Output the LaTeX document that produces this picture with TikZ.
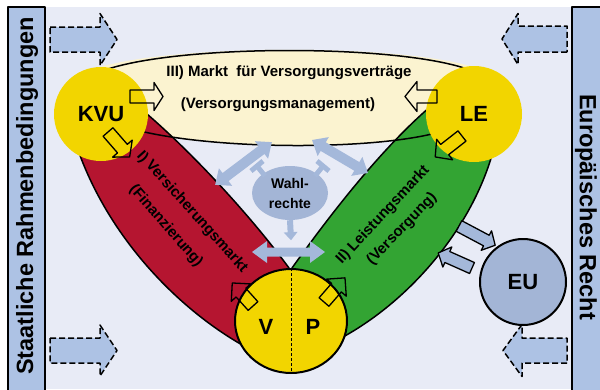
\documentclass[tikz,border=0pt]{standalone}
\usepackage{fontspec}
\setmainfont{Liberation Sans}
\usetikzlibrary{shapes.geometric}
\definecolor{bgc}{RGB}{232,235,246}
\definecolor{barb}{RGB}{173,194,228}
\definecolor{arrb}{RGB}{164,184,218}
\definecolor{eub}{RGB}{163,181,214}
\definecolor{yel}{RGB}{242,213,0}
\definecolor{cream}{RGB}{251,243,208}
\definecolor{redc}{RGB}{181,21,48}
\definecolor{greenc}{RGB}{51,164,51}
\tikzset{
  pics/barrow/.style args={#1/#2/#3/#4}{code={
    \path[pic actions] (0,-#2) -- ({#1-#4},-#2) -- ({#1-#4},-#3) -- (#1,0) -- ({#1-#4},#3) -- ({#1-#4},#2) -- (0,#2) -- cycle;}},
  pics/dbarrow/.style args={#1/#2/#3/#4}{code={
    \path[pic actions] ({-#1/2},0) -- ({-#1/2+#4},#3) -- ({-#1/2+#4},#2) -- ({#1/2-#4},#2) -- ({#1/2-#4},#3) -- ({#1/2},0) -- ({#1/2-#4},-#3) -- ({#1/2-#4},-#2) -- ({-#1/2+#4},-#2) -- ({-#1/2+#4},-#3) -- cycle;}},
  sidetxt/.style={font=\fontsize{23.5}{26}\selectfont\bfseries, inner sep=0},
  bigtxt/.style={font=\fontsize{22}{26}\selectfont\bfseries, inner sep=0},
  midtxt/.style={font=\fontsize{15}{18}\selectfont\bfseries, inner sep=0},
  dasharr/.style={draw, fill=barb, line width=1.5pt, dash pattern=on 6pt off 3pt},
  outarr/.style={draw, line width=1.3pt},
  euarr/.style={draw, fill=arrb, line width=1.3pt},
  dbl/.style={fill=arrb},
  stub/.style={draw=arrb, line width=5pt},
  band/.style={draw, line width=1.5pt},
}
\begin{document}
\begin{tikzpicture}[x=1pt,y=-1pt,line join=round]
\useasboundingbox (0,0) rectangle (600,389);
\fill[white] (0,0) rectangle (600,389);
\fill[bgc] (45,7) rectangle (572,389);
% side bars
\draw[line width=2.5pt, fill=barb] (8,7) rectangle (45,393);
\draw[line width=2.5pt, fill=barb] (572,7) rectangle (606,393);
\node[sidetxt, rotate=90] (lt) at (27,196) {Staatliche Rahmenbedingungen};
\node[sidetxt, rotate=-90] (rt) at (586,207) {Europäisches Recht};
% dashed arrows
\pic[dasharr] at (50,39.5) {barrow={67/12.5/26/17}};
\pic[dasharr] at (50,350.5) {barrow={67/12.5/25.5/17}};
\pic[dasharr, rotate=180] at (567,39) {barrow={65/13/25.5/16}};
\pic[dasharr, rotate=180] at (567,350.5) {barrow={64/12.5/26/19}};
% market III fill
\fill[cream] (100,67) .. controls (180,44) and (400,44) .. (473,67) -- (480,110) -- (433,134) .. controls (370,150) and (220,150) .. (143,132) -- (100,110) -- cycle;
% bands
\path[band, fill=redc] (140,108) .. controls (190,150) and (250,215) .. (289,268) -- (275,320) -- (244,346) .. controls (180,310) and (110,240) .. (78,150) -- (100,114) -- cycle;
\path[band, fill=greenc] (431,106) .. controls (380,150) and (330,215) .. (292,268) -- (310,320) -- (343,337) .. controls (410,300) and (470,230) .. (492,155) -- (474,114) -- cycle;
% market III outline
\draw[line width=1.5pt] (105,70) .. controls (180,44) and (400,44) .. (470,70);
\draw[line width=1.5pt] (436,133) .. controls (370,150) and (220,150) .. (140,131);
% Wahlrechte
\node[ellipse, fill=eub, minimum width=76pt, minimum height=54pt, inner sep=0, align=center, font=\fontsize{14}{20}\selectfont\bfseries] (wahl) at (290,193) {Wahl-\\rechte};
\draw[stub] (265,176) -- (257,166);
\draw[stub] (251,171) -- (263,161);
\draw[stub] (315,176) -- (323,166);
\draw[stub] (317,161) -- (329,171);
\pic[dbl, rotate=-87] at (wahl.south) {barrow={20/3/7/8}};
% double arrows
\pic[dbl, rotate=37] at (243.5,163.5) {dbarrow={71/5/11/13}};
\pic[dbl, rotate=-30.5] at (340,156.5) {dbarrow={65/5/11/13}};
\pic[dbl] at (288.5,252) {dbarrow={73/4.5/11/15}};
% circles
\node[circle, fill=yel, minimum size=94pt, inner sep=0, bigtxt] (kvu) at (101,114) {KVU};
\node[circle, fill=yel, minimum size=96pt, inner sep=0, bigtxt] (le) at (474,114) {LE};
\node[ellipse, draw, line width=2pt, fill=yel, minimum width=112pt, minimum height=104pt, inner sep=0] (vp) at (291,321) {};
\draw[line width=0.8pt, dash pattern=on 3pt off 2pt] (vp.north) -- (vp.south);
\node[bigtxt] (v) at (266,327) {V};
\node[bigtxt] (p) at (313,327) {P};
\node[circle, draw, line width=2pt, fill=eub, minimum size=86pt, inner sep=0, bigtxt] (eu) at (523,282) {EU};
% EU arrows
\pic[euarr, rotate=-28] at (459,226) {barrow={41/6/11/10}};
\pic[euarr, rotate=156] at (472,268) {barrow={37/6/11/10}};
% small outline arrows
\pic[outarr] at (130,96.5) {barrow={33/6.5/14/9}};
\pic[outarr, rotate=-49] at (108,132) {barrow={33/6.5/13/11}};
\pic[outarr, rotate=180] at (437,96.5) {barrow={32/6.5/15/12}};
\pic[outarr, rotate=-142] at (462,136) {barrow={34/6.5/13/12}};
\pic[outarr, rotate=132] at (253,306) {barrow={31/6.5/13/13}};
\pic[outarr, rotate=49] at (324,302) {barrow={32/6.5/13/13}};
% texts
\node[midtxt] (m1) at (289,73) {III) Markt~ für Versorgungsverträge};
\node[midtxt] (m2) at (278,105) {(Versorgungsmanagement)};
\node[midtxt, rotate=-48] (t1) at (192,212) {I) Versicherungsmarkt};
\node[midtxt, rotate=-49] (t2) at (166,226) {(Finanzierung)};
\node[midtxt, rotate=47] (t3) at (383,215) {II) Leistungsmarkt};
\node[midtxt, rotate=46] (t4) at (402,229) {(Versorgung)};
\end{tikzpicture}
\end{document}
